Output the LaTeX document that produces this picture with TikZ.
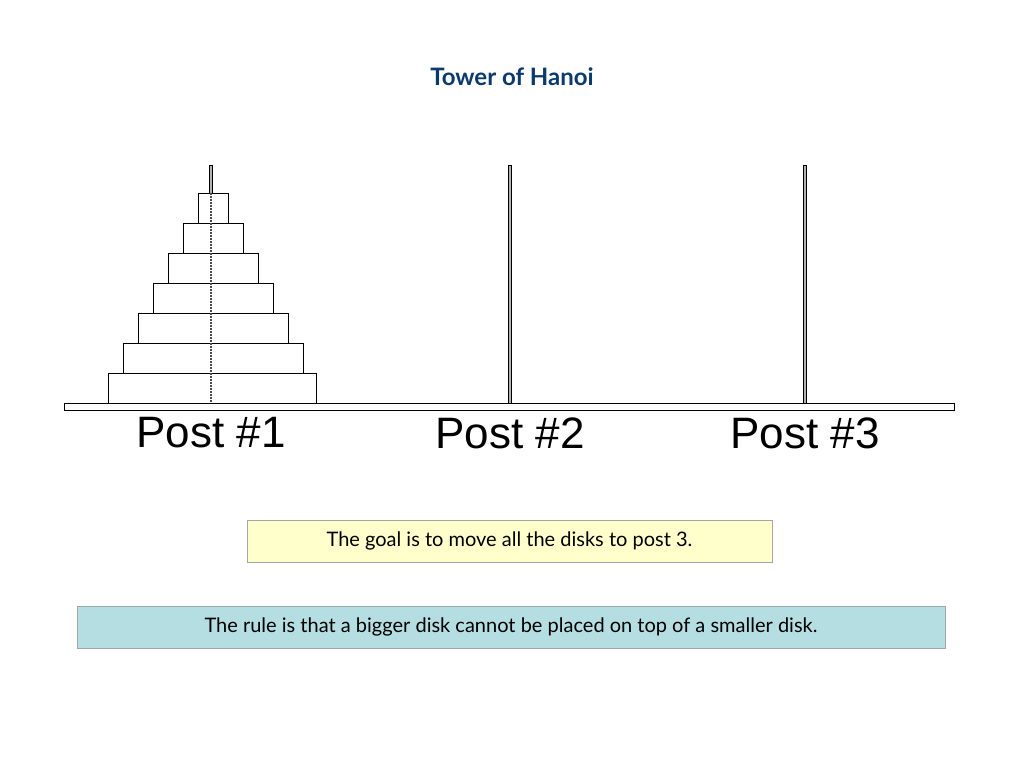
\documentclass[tikz,border=0pt]{standalone}
\usepackage{fontspec}
\setmainfont{Lato}
\newfontfamily\postfont{Liberation Sans}
\definecolor{titleblue}{HTML}{0B3A6E}
\definecolor{goalfill}{HTML}{FFFFCC}
\definecolor{rulefill}{HTML}{B4DEE2}
\begin{document}
\begin{tikzpicture}[x=1pt,y=-1pt,
  disk/.style={draw=black,line width=1pt,fill=white},
  pole/.style={draw=black,line width=0.6pt,fill=gray!60},
  postlbl/.style={font=\postfont\fontsize{44}{48}\selectfont},
  msg/.style={draw=gray!70,line width=0.8pt,inner sep=0pt,font=\fontsize{20}{24}\selectfont}]
\useasboundingbox (0,0) rectangle (1024,768);
\node[font=\bfseries\fontsize{24}{28}\selectfont,text=titleblue] (title) at (512,77) {Tower of Hanoi};
% poles
\filldraw[pole] (209.5,165) rectangle (212.5,403);
\filldraw[pole] (508.5,165) rectangle (511.5,403);
\filldraw[pole] (803.5,165) rectangle (806.5,403);
% disks
\foreach \i/\l/\r in {0/108/316,1/123/303,2/138/288,3/153/273,4/168/258,5/183/243,6/198/228}{
  \draw[disk] (\l,{403-30*\i}) rectangle (\r,{373-30*\i});
}
\draw[white,line width=1.2pt,dash pattern=on 3pt off 2pt] (211,193) -- (211,403);
\draw[black!70,line width=1.6pt,dash pattern=on 2pt off 1pt] (211,193) -- (211,403);
% base
\draw[line width=1pt,fill=white] (64,403) rectangle (954,410);
\node[postlbl] (p1) at (211,433) {Post \#1};
\node[postlbl] (p2) at (510,433) {Post \#2};
\node[postlbl] (p3) at (805,433) {Post \#3};
\node[msg,fill=goalfill,minimum width=525pt,minimum height=42pt] (goal) at (509.5,541) {The goal is to move all the disks to post 3.};
\node[msg,fill=rulefill,minimum width=868pt,minimum height=42pt] (rule) at (511,627) {The rule is that a bigger disk cannot be placed on top of a smaller disk.};
\end{tikzpicture}
\end{document}
